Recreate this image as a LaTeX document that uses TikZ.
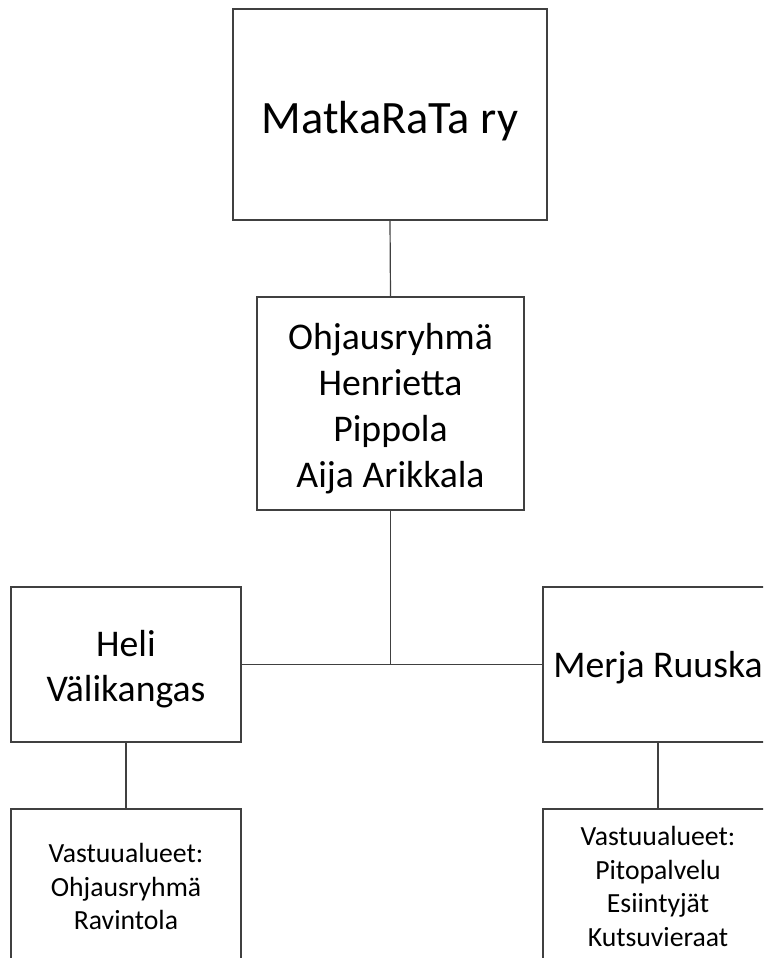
\documentclass[tikz,border=0pt]{standalone}
\usepackage{fontspec}
\setmainfont{Carlito}
\begin{document}
\begin{tikzpicture}[x=1pt,y=-1pt,
    laatikko/.style={draw=black!75,line width=1.2pt,fill=white,align=center,inner sep=0pt},
    yhteys/.style={draw=black!75,line width=1.2pt}]
        \useasboundingbox (0,0) rectangle (763,958);
        \clip (0,0) rectangle (763,958);
        % ylin taso
        \node[laatikko,minimum width=314pt,minimum height=211pt,text height=45pt,font=\fontsize{46.4}{56}\selectfont] (yhdistys) at (390,114.5) {MatkaRaTa ry};
        \node[laatikko,minimum width=267pt,minimum height=213pt,font=\fontsize{37.7}{46}\selectfont] (ohjaus) at (390.5,403.5) {\rule{0pt}{36.5pt}Ohjausryhmä\\Henrietta\\Pippola\\Aija Arikkala};
        % vastuuhenkilot
        \node[laatikko,minimum width=230pt,minimum height=155pt,font=\fontsize{37.7}{45}\selectfont] (heli) at (126,664.5) {\rule{0pt}{35.5pt}Heli\\Välikangas};
        \node[laatikko,minimum width=230pt,minimum height=155pt,text height=32pt,font=\fontsize{37.7}{45}\selectfont] (merja) at (658,664.5) {Merja Ruuska};
        \node[laatikko,minimum width=230pt,minimum height=155pt,font=\fontsize{27.7}{33.5}\selectfont] (helivast) at (126,886.5) {Vastuualueet:\\Ohjausryhmä\\Ravintola};
        \node[laatikko,minimum width=230pt,minimum height=155pt,font=\fontsize{27.7}{33.5}\selectfont] (merjavast) at (658,886.5) {Vastuualueet:\\Pitopalvelu\\Esiintyjät\\Kutsuvieraat};
        % yhteydet
        \draw[yhteys] (yhdistys.south) -- (ohjaus.north);
        \draw[yhteys] (heli.east) -- (merja.west);
        \draw[yhteys] (ohjaus.south) -- (ohjaus.south |- heli.east);
        \draw[yhteys] (heli.south) -- (helivast.north);
        \draw[yhteys] (merja.south) -- (merjavast.north);
    \end{tikzpicture}
\end{document}
